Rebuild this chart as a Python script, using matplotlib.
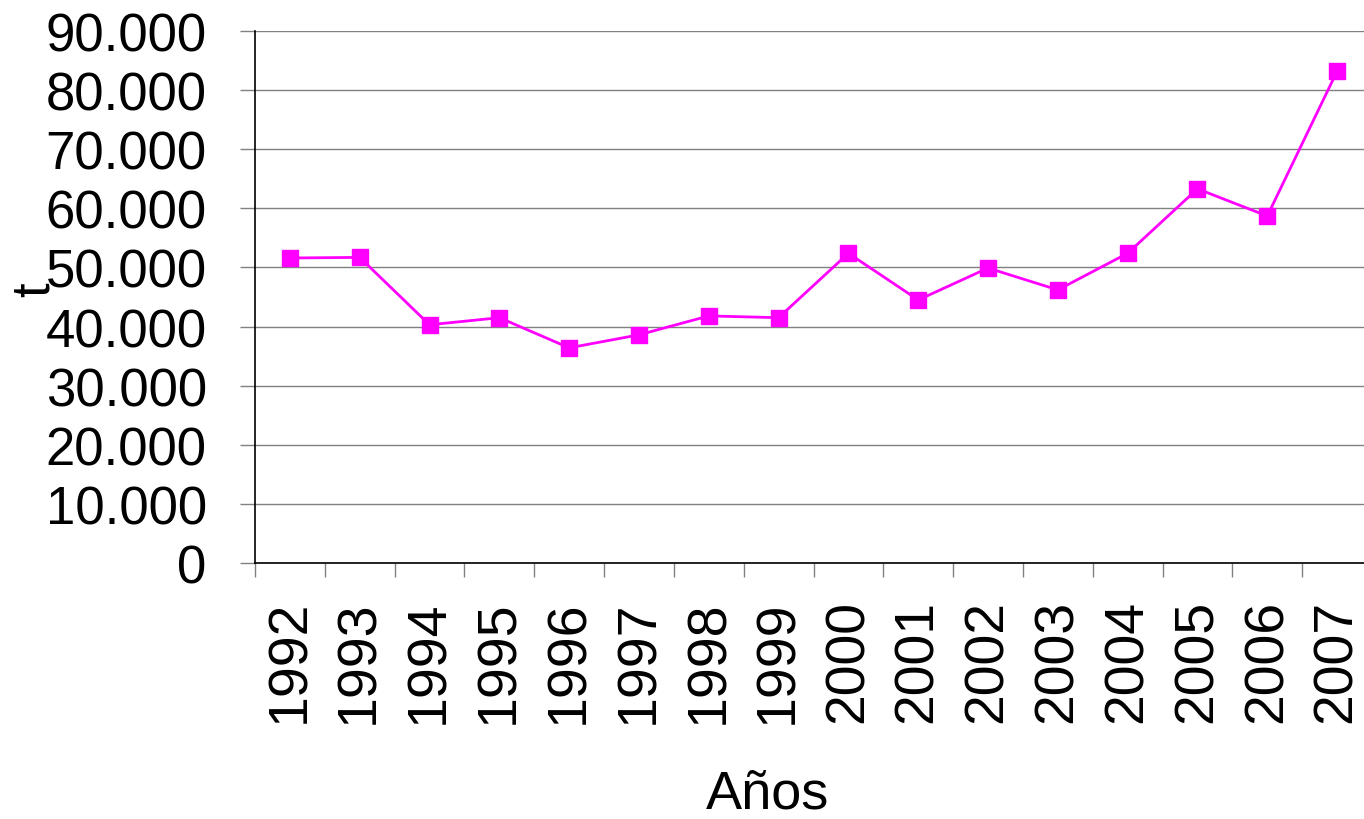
import matplotlib
matplotlib.use("Agg")
import matplotlib.pyplot as plt
from matplotlib.ticker import FuncFormatter, FixedLocator

years = ["1992", "1993", "1994", "1995", "1996", "1997", "1998", "1999",
         "2000", "2001", "2002", "2003", "2004", "2005", "2006", "2007"]
toneladas = [51600, 51700, 40300, 41500, 36400, 38600, 41800, 41500,
             52400, 44500, 49900, 46200, 52400, 63300, 58700, 83200]
y_ticks = [0, 10000, 20000, 30000, 40000, 50000, 60000, 70000, 80000, 90000]

plt.rcParams['font.family'] = ['Liberation Sans', 'DejaVu Sans']

W, H = 1364, 820
fig = plt.figure(figsize=(W / 100, H / 100), dpi=100)
# plot area runs a bit past the right edge, like the original
ax = fig.add_axes([255 / W, 1 - 564 / H, (1372 - 255) / W, 532 / H])

x = list(range(len(years)))
ax.plot(x, toneladas, color="#FF00FF", lw=2, marker="s", ms=12,
        mec="#FF00FF", mfc="#FF00FF", zorder=3, clip_on=False)

ax.set_ylim(0, 90000)
ax.set_xlim(-0.5, len(years) - 0.5)
ax.set_yticks(y_ticks)
ax.yaxis.set_major_formatter(FuncFormatter(lambda v, p: f"{int(v):,}".replace(",", ".")))
ax.grid(axis="y", color="#808080", lw=1)
ax.set_axisbelow(True)

# category boundaries get tick marks, labels sit in the middle
ax.xaxis.set_major_locator(FixedLocator([i - 0.5 for i in range(len(years) + 1)]))
ax.xaxis.set_major_formatter(FuncFormatter(lambda v, p: ""))
ax.set_xticks(x, minor=True)
ax.set_xticklabels(years, minor=True, rotation=90, fontsize=40)
ax.tick_params(axis="x", which="major", length=10, width=1, color="#808080")
ax.tick_params(axis="x", which="minor", length=0, pad=26)
ax.tick_params(axis="y", length=10.8, width=1, color="#808080", labelsize=38, pad=24)

for s in ["top", "right"]:
    ax.spines[s].set_visible(False)
ax.spines["left"].set_color("black")
ax.spines["bottom"].set_color("black")
ax.spines["left"].set_linewidth(1.2)
ax.spines["bottom"].set_linewidth(1.2)

fig.text(768 / W, 1 - 795 / H, "Años", fontsize=39, ha="center", va="center")
fig.text(35 / W, 1 - 290 / H, "t", fontsize=38, ha="center", va="center", rotation=90)

fig.savefig("out.png", dpi=100)
